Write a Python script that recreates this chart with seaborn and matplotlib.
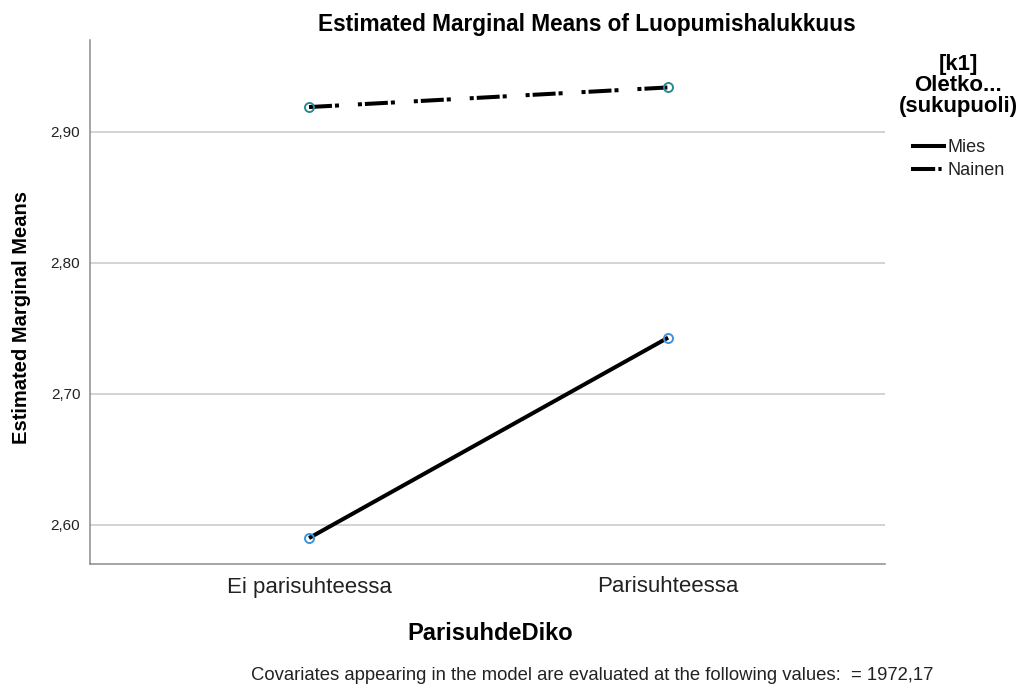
import matplotlib
matplotlib.use("Agg")
import matplotlib.pyplot as plt
import seaborn as sns
import pandas as pd
from matplotlib.lines import Line2D

# ---- data ----
categories = ["Ei parisuhteessa", "Parisuhteessa"]
groups = ["Mies", "Nainen"]
mies_values = [2.590, 2.743]
nainen_values = [2.919, 2.934]
y_ticks = [2.60, 2.70, 2.80, 2.90]
y_tick_labels = ["2,60", "2,70", "2,80", "2,90"]

df = pd.DataFrame({
    "ParisuhdeDiko": categories * 2,
    "sukupuoli": [groups[0]] * 2 + [groups[1]] * 2,
    "mean": mies_values + nainen_values,
})

sns.set_theme(style="white")
plt.rcParams["font.family"] = ["Liberation Sans", "DejaVu Sans"]

fig = plt.figure(figsize=(10.23, 6.91), dpi=100)
ax = fig.add_axes([90 / 1023, 1 - 564 / 691, 795 / 1023, 524 / 691])

nainen_dash = (5.7, 0.75, 1.0, 4.7, 1.0, 0.75)
sns.lineplot(
    data=df, x="ParisuhdeDiko", y="mean", hue="sukupuoli", style="sukupuoli",
    palette={"Mies": "black", "Nainen": "black"},
    dashes={"Mies": "", "Nainen": nainen_dash},
    markers={"Mies": "o", "Nainen": "o"},
    lw=2.9, ms=6.5, mfc="none", mew=1.4, legend=False, ax=ax,
    sort=False,
)
marker_colors = {"Mies": "#3a93dc", "Nainen": "#2a8a92"}
for line, g in zip(ax.lines, groups):
    line.set_markeredgecolor(marker_colors[g])
    line.set_solid_capstyle("butt")

ax.set_xlim(-0.61, 1.604)
ax.set_ylim(2.5702, 2.9702)
ax.set_yticks(y_ticks)
ax.set_yticklabels(y_tick_labels)
ax.yaxis.grid(True, color="#c8c8c8", lw=1.1)
ax.xaxis.grid(False)
ax.set_axisbelow(True)
for s in ["top", "right"]:
    ax.spines[s].set_visible(False)
for s in ["left", "bottom"]:
    ax.spines[s].set_color("#8c8c8c")
    ax.spines[s].set_linewidth(1.1)
ax.tick_params(axis="y", labelsize=11, length=0, pad=7, colors="#222222")
ax.tick_params(axis="x", labelsize=16, length=0, pad=9, colors="#222222")

ax.set_xlabel("")
ax.set_ylabel("")
fig.text(490 / 1023, 1 - 634 / 691, "ParisuhdeDiko", ha="center", va="center",
         fontsize=17, fontweight="bold", color="black")
fig.text(22 / 1023, 1 - 318 / 691, "Estimated Marginal Means", ha="center", va="center",
         rotation=90, fontsize=14.5, fontweight="bold", color="black")

fig.text(587 / 1023, 1 - 24 / 691, "Estimated Marginal Means of Luopumishalukkuus",
         ha="center", va="center", fontsize=16.3, fontweight="bold", color="black")
fig.text(592 / 1023, 1 - 676 / 691,
         "Covariates appearing in the model are evaluated at the following values:  = 1972,17",
         ha="center", va="center", fontsize=13.3, color="#222222")

handles = [
    Line2D([], [], color="black", lw=2.9, solid_capstyle="butt"),
    Line2D([], [], color="black", lw=2.9, dashes=(6.0, 0.8, 0.8, 3.0)),
]
leg = fig.legend(handles, groups, title="[k1]\nOletko...\n(sukupuoli)",
                 loc="upper center", bbox_to_anchor=(958 / 1023, 1 - 38 / 691),
                 frameon=False, fontsize=13, handlelength=1.9, handletextpad=0.1,
                 labelspacing=0.3, alignment="center",
                 title_fontproperties={"weight": "bold", "size": 16})
leg.get_title().set_multialignment("center")
leg.get_title().set_linespacing(1.0)
leg.get_title().set_color("black")
leg._legend_box.sep = 16
for t in leg.get_texts():
    t.set_color("#222222")

fig.savefig("out.png", dpi=100)
